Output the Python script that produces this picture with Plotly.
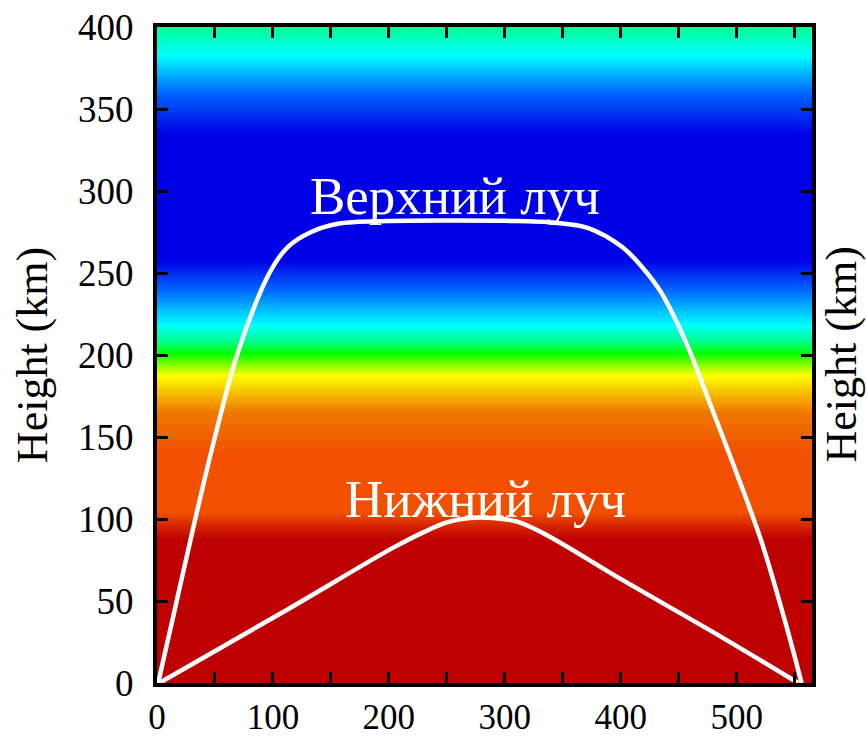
import plotly.graph_objects as go

# Background field profile (normalised) versus height
field_height = [0, 88, 97, 104, 140, 165, 188, 201, 218, 240, 258, 335, 360, 383, 400]
field_value = [1.0, 1.0, 0.86, 0.78, 0.78, 0.68, 0.55, 0.43, 0.26, 0.12, 0.0, 0.0, 0.12, 0.26, 0.35]
field_range = [0, 565]

# Upper ray trajectory (distance km, height km)
upper_x = [1, 17, 33, 50, 70, 97, 113, 133, 156, 199, 257, 300, 343, 372,
           401, 418, 435, 458, 475, 501, 522, 544, 556]
upper_y = [0, 50, 100, 150, 202, 250, 266, 275, 280, 281.7, 282, 281.8, 280.7,
           277.4, 266, 254, 238, 205, 174, 126, 85, 32, 0]

# Lower ray trajectory
lower_x = [2, 113, 205, 230, 250, 270, 290, 310, 334, 401, 487, 553]
lower_y = [0, 45, 83, 92, 98, 100.6, 100.6, 98.5, 91, 63, 28, 0]

x_ticks = [0, 100, 200, 300, 400, 500]
y_ticks = [0, 50, 100, 150, 200, 250, 300, 350, 400]

colorscale = [
    [0.0, "#0000E6"], [0.12, "#0064FF"], [0.26, "#00FFFF"], [0.35, "#00FF96"],
    [0.43, "#00FF00"], [0.55, "#FFFF00"], [0.68, "#F07800"], [0.78, "#F05000"],
    [0.86, "#D82800"], [1.0, "#BE0000"],
]

fig = go.Figure()
fig.add_trace(go.Heatmap(
    x=field_range,
    y=field_height,
    z=[[v, v] for v in field_value],
    colorscale=colorscale, zmin=0, zmax=1,
    zsmooth="best", showscale=False, hoverinfo="skip",
))
for xs, ys in [(upper_x, upper_y), (lower_x, lower_y)]:
    fig.add_trace(go.Scatter(
        x=xs, y=ys, mode="lines",
        line=dict(color="white", width=4.5, shape="spline", smoothing=1.0),
        showlegend=False, hoverinfo="skip",
    ))

font_family = "Liberation Serif"
fig.add_annotation(x=257, y=297, text="Верхний луч", showarrow=False,
                   font=dict(family=font_family, size=53, color="white"))
fig.add_annotation(x=283, y=112, text="Нижний луч", showarrow=False,
                   font=dict(family=font_family, size=53, color="white"))
fig.add_annotation(xref="paper", yref="paper", x=1.0, y=0.5, xshift=55,
                   text="Height (km)", textangle=-90, showarrow=False,
                   font=dict(family=font_family, size=44, color="black"))

axis_common = dict(
    showline=True, linecolor="black", linewidth=4, mirror="ticks",
    ticks="inside", ticklen=11, tickwidth=3, tickcolor="black",
    showgrid=False, zeroline=False, automargin=False,
)
fig.update_xaxes(
    range=field_range, tickvals=x_ticks, ticklabelstandoff=0,
    tickfont=dict(family=font_family, size=35, color="black"),
    minor=dict(dtick=50, ticks="inside", ticklen=11, tickwidth=3, tickcolor="black"),
    **axis_common,
)
fig.update_yaxes(
    range=[0, 400], tickvals=y_ticks, ticklabelstandoff=12,
    tickfont=dict(family=font_family, size=37, color="black"),
    title=dict(text="Height (km)", font=dict(family=font_family, size=44, color="black"), standoff=18),
    **axis_common,
)
fig.update_layout(
    width=866, height=739,
    margin=dict(l=157, r=54, t=27, b=56),
    paper_bgcolor="white", plot_bgcolor="white",
)
fig.write_html("out.html")
